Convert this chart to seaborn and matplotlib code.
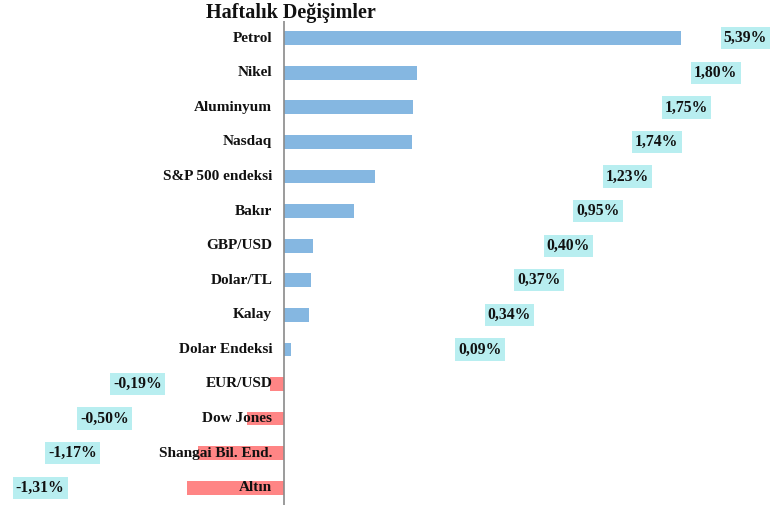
import pandas as pd
import matplotlib
matplotlib.use("Agg")
import matplotlib.pyplot as plt
import seaborn as sns

# data
categories = ["Petrol", "Nikel", "Aluminyum", "Nasdaq", "S&P 500 endeksi", "Bakır",
              "GBP/USD", "Dolar/TL", "Kalay", "Dolar Endeksi", "EUR/USD",
              "Dow Jones", "Shangai Bil. End.", "Altın"]
changes = [5.39, 1.80, 1.75, 1.74, 1.23, 0.95, 0.40, 0.37, 0.34, 0.09,
           -0.19, -0.50, -1.17, -1.31]
title = "Haftalık Değişimler"


def main():
    df = pd.DataFrame({"kategori": categories, "degisim": changes})
    df["yon"] = ["pos" if v >= 0 else "neg" for v in df["degisim"]]

    sns.set_style("white")
    plt.rcParams["font.family"] = ["Liberation Serif", "DejaVu Serif"]

    fig = plt.figure(figsize=(7.81, 5.18), dpi=100)
    ax = fig.add_axes([0, 0.0251, 1, 0.9344])

    sns.barplot(data=df, y="kategori", x="degisim", hue="yon",
                palette={"pos": "#85B7E1", "neg": "#FF8585"},
                saturation=1, dodge=False, legend=False, width=0.4, ax=ax,
                edgecolor="none", orient="h")

    ax.set_xlim(-3.853, 6.744)
    ax.set_ylim(len(categories) - 0.5, -0.5)
    ax.axvline(0, color="#8A8A8A", linewidth=1.2, zorder=3)

    n_pos = 0
    n_neg = 0
    for i, (cat, val) in enumerate(zip(categories, changes)):
        ax.text(-0.16, i, cat, ha="right", va="center", fontsize=11,
                fontweight="bold", color="#111111", zorder=4)
        if val >= 0:
            lx = 6.26 - 0.4 * n_pos
            n_pos += 1
        else:
            lx = -1.99 - 0.44 * n_neg
            n_neg += 1
        lbl = f"{val:.2f}".replace(".", ",") + "%"
        ax.text(lx, i, lbl, ha="center", va="center", fontsize=11.3,
                fontweight="bold", color="#111111", zorder=4,
                bbox=dict(boxstyle="square,pad=0.2", facecolor="#B8EEF0",
                          edgecolor="none"))

    ax.set_axis_off()
    fig.text(0.373, 0.974, title, ha="center", va="center",
             fontsize=14.5, fontweight="bold", color="#111111")

    fig.savefig("out.png", dpi=100)


if __name__ == "__main__":
    main()
